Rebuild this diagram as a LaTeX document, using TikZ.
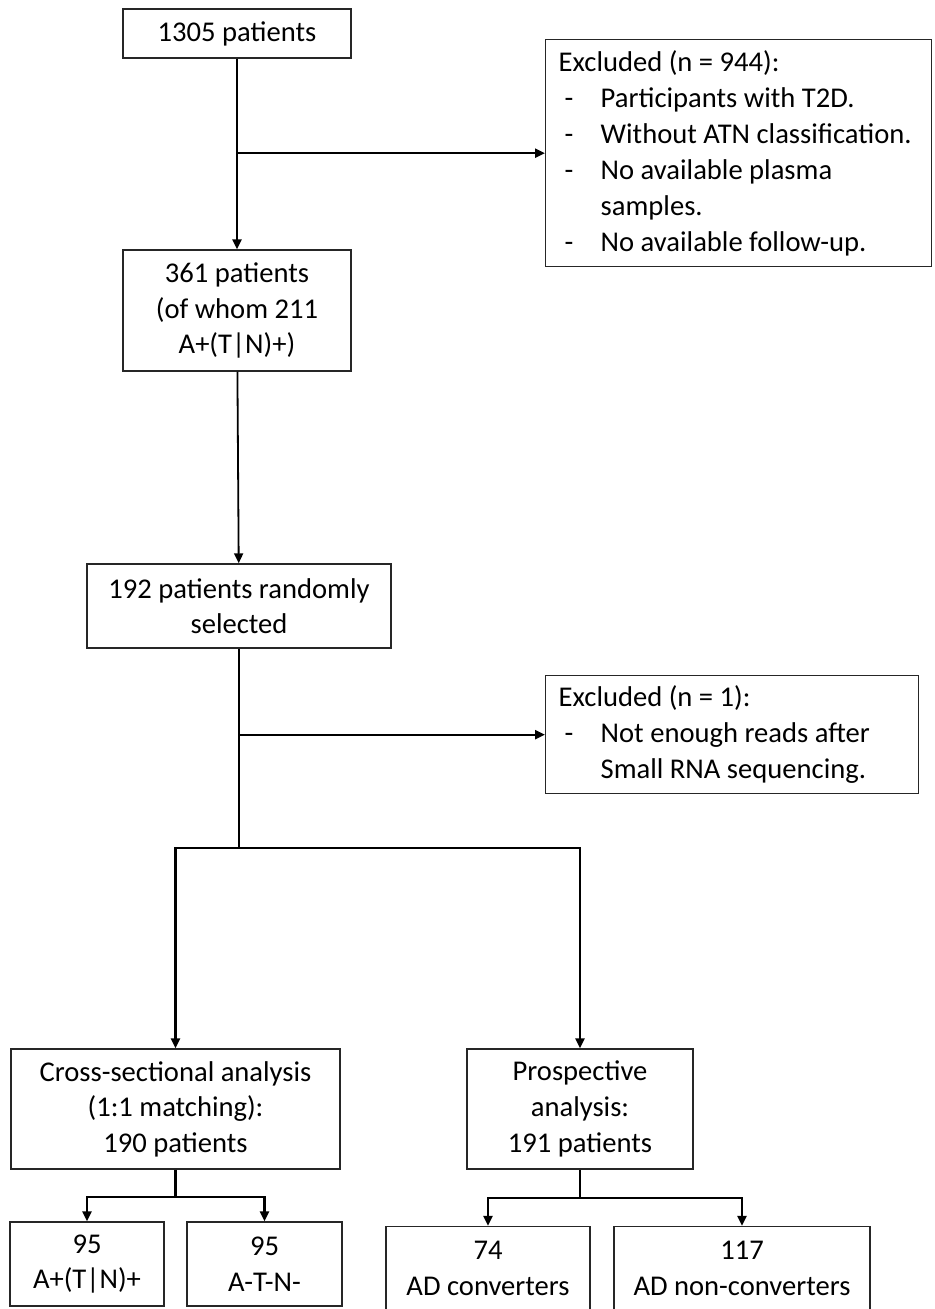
\documentclass[tikz,border=0pt]{standalone}
\usepackage{fontspec}
\setmainfont{Carlito}
\usetikzlibrary{arrows.meta}
\newcommand{\exclitem}[1]{\makebox[21pt][l]{\hspace{3pt}-}#1}

\begin{document}
\begin{tikzpicture}[x=0.5pt,y=-0.5pt,
	box/.style={draw=black!85,line width=0.7pt,align=center,inner sep=0pt,font=\fontsize{14.3}{17.8}\selectfont},
	exclbox/.style={draw=black!85,line width=0.7pt,align=flush left,anchor=north west,inner xsep=6.5pt,inner ysep=0pt,font=\fontsize{14.3}{18}\selectfont},
	flow/.style={line width=1.3pt,-{Triangle[length=5pt,width=4.5pt]}},
	link/.style={line width=1.3pt}]
	\useasboundingbox (0,0) rectangle (934,1309);

	\node[box,minimum width=114pt,minimum height=24.5pt] (n1305) at (237,33.5) {1305 patients};
	\node[box,minimum width=114pt,minimum height=60.5pt] (n361) at (237,310.5) {361 patients\\(of whom 211\\A+(T|N)+)};
	\node[box,minimum width=152pt,minimum height=42pt] (n192) at (239,606) {192 patients randomly\\selected};
	\node[box,minimum width=164.5pt,minimum height=60pt] (cross) at (175.5,1109) {Cross-sectional analysis\\(1:1 matching):\\190 patients};
	\node[box,minimum width=113pt,minimum height=60pt] (prosp) at (580,1109) {Prospective\\analysis:\\191 patients};
	\node[box,minimum width=77pt,minimum height=42pt] (atnpos) at (87,1264) {95\\A+(T|N)+};
	\node[box,minimum width=77.5pt,minimum height=42pt] (atnneg) at (264.5,1264) {95\\A-T-N-};
	\node[box,minimum width=102pt,minimum height=42pt] (conv) at (488,1268.5) {74\\AD converters};
	\node[box,minimum width=128pt,minimum height=42pt] (nonconv) at (742,1268.5) {117\\AD non-converters};

	\node[exclbox,text width=180pt,minimum height=113.5pt] (excl1) at (545,39) {Excluded (n = 944):\\
		\exclitem{Participants with T2D.}\\
		\exclitem{Without ATN classification.}\\
		\exclitem{No available plasma}\\
		\hspace*{21pt}samples.\\
		\exclitem{No available follow-up.}};
	\node[exclbox,text width=173.5pt,minimum height=59pt] (excl2) at (545,675) {Excluded (n = 1):\\
		\exclitem{Not enough reads after}\\
		\hspace*{21pt}Small RNA sequencing.};

	\coordinate (split1) at (n1305.south |- excl1.west);
	\coordinate (split2) at (n192.south |- excl2.west);
	\coordinate (fork1) at (239,848);
	\coordinate (fork2) at (175.5,1197);
	\coordinate (fork3) at (580,1198);

	\draw[flow] (n1305) -- (n361);
	\draw[flow,line width=1.1pt] (split1) -- (excl1.west);
	\draw[flow,line width=0.9pt] (n361) -- (n192);
	\draw[link] (n192) -- (fork1);
	\draw[flow,line width=1.1pt] (split2) -- (excl2.west);
	\draw[flow] (fork1) -| (cross);
	\draw[flow] (fork1) -| (prosp);

	\draw[link] (cross) -- (fork2);
	\draw[flow] (fork2) -| (atnpos);
	\draw[flow] (fork2) -| (atnneg);
	\draw[link] (prosp) -- (fork3);
	\draw[flow] (fork3) -| (conv);
	\draw[flow] (fork3) -| (nonconv);
\end{tikzpicture}
\end{document}
